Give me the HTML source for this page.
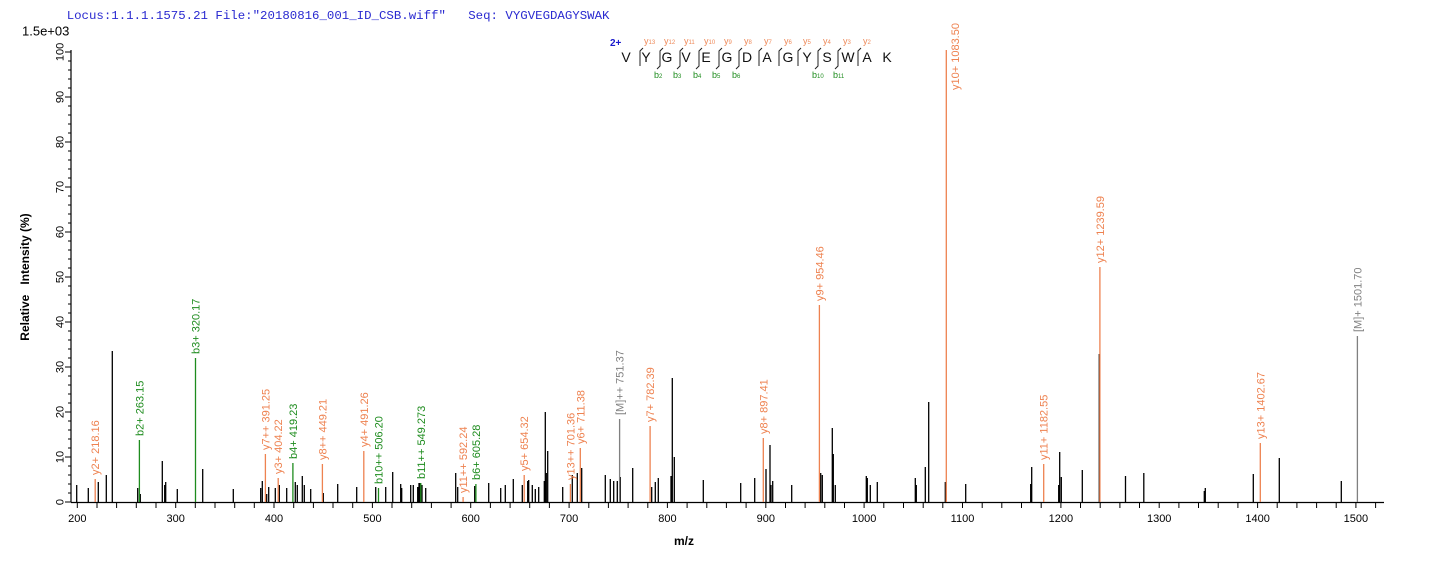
<!DOCTYPE html>
<html>
<head>
<meta charset="utf-8">
<style>
  html,body{margin:0;padding:0;background:#fff;}
  svg{display:block;}
  text{font-family:"Liberation Sans",Arial,sans-serif;}
  .mono{font-family:"Liberation Mono","Courier New",monospace;}
</style>
</head>
<body>
<svg width="1436" height="562" viewBox="0 0 1436 562" xmlns="http://www.w3.org/2000/svg">
  <rect width="1436" height="562" fill="#fff"/>

  <!-- header -->
  <text class="mono" x="66.7" y="19" font-size="12.4" fill="#2a2ad0" xml:space="preserve">Locus:1.1.1.1575.21 File:"20180816_001_ID_CSB.wiff"   Seq: VYGVEGDAGYSWAK</text>
  <text x="22" y="35.5" font-size="13" fill="#000">1.5e+03</text>

  <!-- sequence diagram -->
  <g font-size="14" fill="#111" text-anchor="middle">
    <text x="626" y="62">V</text><text x="646" y="62">Y</text><text x="667" y="62">G</text>
    <text x="686" y="62">V</text><text x="706" y="62">E</text><text x="727" y="62">G</text>
    <text x="747" y="62">D</text><text x="767" y="62">A</text><text x="788" y="62">G</text>
    <text x="807" y="62">Y</text><text x="827" y="62">S</text><text x="848" y="62">W</text>
    <text x="867" y="62">A</text><text x="887" y="62">K</text>
  </g>
  <text x="610" y="46" font-size="10" font-weight="bold" fill="#1a1acc">2+</text>
  <g stroke="#222" stroke-width="1" fill="none">
    <polyline points="640,66 640,51 643,48"/>
    <polyline points="657,69 660,66 660,51 663,48"/>
    <polyline points="677,69 680,66 680,51 683,48"/>
    <polyline points="696,69 699,66 699,51 702,48"/>
    <polyline points="716,69 719,66 719,51 722,48"/>
    <polyline points="736,69 739,66 739,51 742,48"/>
    <polyline points="759,66 759,51 762,48"/>
    <polyline points="779,66 779,51 782,48"/>
    <polyline points="798,66 798,51 801,48"/>
    <polyline points="815,69 818,66 818,51 821,48"/>
    <polyline points="835,69 838,66 838,51 841,48"/>
    <polyline points="858,66 858,51 861,48"/>
  </g>
  <g fill="#ee8a5a" font-size="9">
    <text x="644" y="44">y<tspan font-size="6">13</tspan></text>
    <text x="664" y="44">y<tspan font-size="6">12</tspan></text>
    <text x="684" y="44">y<tspan font-size="6">11</tspan></text>
    <text x="704" y="44">y<tspan font-size="6">10</tspan></text>
    <text x="724" y="44">y<tspan font-size="6">9</tspan></text>
    <text x="744" y="44">y<tspan font-size="6">8</tspan></text>
    <text x="764" y="44">y<tspan font-size="6">7</tspan></text>
    <text x="784" y="44">y<tspan font-size="6">6</tspan></text>
    <text x="803" y="44">y<tspan font-size="6">5</tspan></text>
    <text x="823" y="44">y<tspan font-size="6">4</tspan></text>
    <text x="843" y="44">y<tspan font-size="6">3</tspan></text>
    <text x="863" y="44">y<tspan font-size="6">2</tspan></text>
  </g>
  <g fill="#1e8c1e" font-size="9">
    <text x="654" y="78">b<tspan font-size="6">2</tspan></text>
    <text x="673" y="78">b<tspan font-size="6">3</tspan></text>
    <text x="693" y="78">b<tspan font-size="6">4</tspan></text>
    <text x="712" y="78">b<tspan font-size="6">5</tspan></text>
    <text x="732" y="78">b<tspan font-size="6">6</tspan></text>
    <text x="812" y="78">b<tspan font-size="6">10</tspan></text>
    <text x="833" y="78">b<tspan font-size="6">11</tspan></text>
  </g>

  <!-- axes -->
  <g stroke="#000" stroke-width="1.2" fill="none">
    <line x1="71" y1="50" x2="71" y2="502.5"/>
    <line x1="71" y1="502.5" x2="1384" y2="502.5"/>
  </g>
  <!-- y ticks -->
  <g stroke="#000" stroke-width="1">
    <line x1="65" y1="502" x2="71" y2="502"/><line x1="68" y1="493" x2="71" y2="493"/><line x1="68" y1="484" x2="71" y2="484"/><line x1="68" y1="475" x2="71" y2="475"/><line x1="68" y1="466" x2="71" y2="466"/>
    <line x1="65" y1="457" x2="71" y2="457"/><line x1="68" y1="448" x2="71" y2="448"/><line x1="68" y1="439" x2="71" y2="439"/><line x1="68" y1="430" x2="71" y2="430"/><line x1="68" y1="421" x2="71" y2="421"/>
    <line x1="65" y1="412" x2="71" y2="412"/><line x1="68" y1="403" x2="71" y2="403"/><line x1="68" y1="394" x2="71" y2="394"/><line x1="68" y1="385" x2="71" y2="385"/><line x1="68" y1="376" x2="71" y2="376"/>
    <line x1="65" y1="367" x2="71" y2="367"/><line x1="68" y1="358" x2="71" y2="358"/><line x1="68" y1="349" x2="71" y2="349"/><line x1="68" y1="340" x2="71" y2="340"/><line x1="68" y1="331" x2="71" y2="331"/>
    <line x1="65" y1="322" x2="71" y2="322"/><line x1="68" y1="313" x2="71" y2="313"/><line x1="68" y1="304" x2="71" y2="304"/><line x1="68" y1="295" x2="71" y2="295"/><line x1="68" y1="286" x2="71" y2="286"/>
    <line x1="65" y1="277" x2="71" y2="277"/><line x1="68" y1="268" x2="71" y2="268"/><line x1="68" y1="259" x2="71" y2="259"/><line x1="68" y1="250" x2="71" y2="250"/><line x1="68" y1="241" x2="71" y2="241"/>
    <line x1="65" y1="232" x2="71" y2="232"/><line x1="68" y1="223" x2="71" y2="223"/><line x1="68" y1="214" x2="71" y2="214"/><line x1="68" y1="205" x2="71" y2="205"/><line x1="68" y1="196" x2="71" y2="196"/>
    <line x1="65" y1="187" x2="71" y2="187"/><line x1="68" y1="178" x2="71" y2="178"/><line x1="68" y1="169" x2="71" y2="169"/><line x1="68" y1="160" x2="71" y2="160"/><line x1="68" y1="151" x2="71" y2="151"/>
    <line x1="65" y1="142" x2="71" y2="142"/><line x1="68" y1="133" x2="71" y2="133"/><line x1="68" y1="124" x2="71" y2="124"/><line x1="68" y1="115" x2="71" y2="115"/><line x1="68" y1="106" x2="71" y2="106"/>
    <line x1="65" y1="97" x2="71" y2="97"/><line x1="68" y1="88" x2="71" y2="88"/><line x1="68" y1="79" x2="71" y2="79"/><line x1="68" y1="70" x2="71" y2="70"/><line x1="68" y1="61" x2="71" y2="61"/>
    <line x1="65" y1="52" x2="71" y2="52"/>
  </g>
  <g font-size="11" fill="#000" text-anchor="middle">
    <text transform="translate(63.5,502) rotate(-90)">0</text>
    <text transform="translate(63.5,457) rotate(-90)">10</text>
    <text transform="translate(63.5,412) rotate(-90)">20</text>
    <text transform="translate(63.5,367) rotate(-90)">30</text>
    <text transform="translate(63.5,322) rotate(-90)">40</text>
    <text transform="translate(63.5,277) rotate(-90)">50</text>
    <text transform="translate(63.5,232) rotate(-90)">60</text>
    <text transform="translate(63.5,187) rotate(-90)">70</text>
    <text transform="translate(63.5,142) rotate(-90)">80</text>
    <text transform="translate(63.5,97) rotate(-90)">90</text>
    <text transform="translate(63.5,52) rotate(-90)">100</text>
  </g>
  <text transform="translate(29,277) rotate(-90)" font-size="12" font-weight="bold" text-anchor="middle" xml:space="preserve">Relative   Intensity (%)</text>

  <!-- x ticks -->
  <g stroke="#000" stroke-width="1">
    <line x1="77.3" y1="502" x2="77.3" y2="508"/><line x1="97.0" y1="502" x2="97.0" y2="508"/><line x1="116.6" y1="502" x2="116.6" y2="508"/><line x1="136.3" y1="502" x2="136.3" y2="508"/><line x1="156.0" y1="502" x2="156.0" y2="508"/>
    <line x1="175.7" y1="502" x2="175.7" y2="508"/><line x1="195.3" y1="502" x2="195.3" y2="508"/><line x1="215.0" y1="502" x2="215.0" y2="508"/><line x1="234.7" y1="502" x2="234.7" y2="508"/><line x1="254.3" y1="502" x2="254.3" y2="508"/>
    <line x1="274.0" y1="502" x2="274.0" y2="508"/><line x1="293.7" y1="502" x2="293.7" y2="508"/><line x1="313.4" y1="502" x2="313.4" y2="508"/><line x1="333.0" y1="502" x2="333.0" y2="508"/><line x1="352.7" y1="502" x2="352.7" y2="508"/>
    <line x1="372.4" y1="502" x2="372.4" y2="508"/><line x1="392.0" y1="502" x2="392.0" y2="508"/><line x1="411.7" y1="502" x2="411.7" y2="508"/><line x1="431.4" y1="502" x2="431.4" y2="508"/><line x1="451.1" y1="502" x2="451.1" y2="508"/>
    <line x1="470.7" y1="502" x2="470.7" y2="508"/><line x1="490.4" y1="502" x2="490.4" y2="508"/><line x1="510.1" y1="502" x2="510.1" y2="508"/><line x1="529.7" y1="502" x2="529.7" y2="508"/><line x1="549.4" y1="502" x2="549.4" y2="508"/>
    <line x1="569.1" y1="502" x2="569.1" y2="508"/><line x1="588.8" y1="502" x2="588.8" y2="508"/><line x1="608.4" y1="502" x2="608.4" y2="508"/><line x1="628.1" y1="502" x2="628.1" y2="508"/><line x1="647.8" y1="502" x2="647.8" y2="508"/>
    <line x1="667.4" y1="502" x2="667.4" y2="508"/><line x1="687.1" y1="502" x2="687.1" y2="508"/><line x1="706.8" y1="502" x2="706.8" y2="508"/><line x1="726.4" y1="502" x2="726.4" y2="508"/><line x1="746.1" y1="502" x2="746.1" y2="508"/>
    <line x1="765.8" y1="502" x2="765.8" y2="508"/><line x1="785.5" y1="502" x2="785.5" y2="508"/><line x1="805.1" y1="502" x2="805.1" y2="508"/><line x1="824.8" y1="502" x2="824.8" y2="508"/><line x1="844.5" y1="502" x2="844.5" y2="508"/>
    <line x1="864.1" y1="502" x2="864.1" y2="508"/><line x1="883.8" y1="502" x2="883.8" y2="508"/><line x1="903.5" y1="502" x2="903.5" y2="508"/><line x1="923.2" y1="502" x2="923.2" y2="508"/><line x1="942.8" y1="502" x2="942.8" y2="508"/>
    <line x1="962.5" y1="502" x2="962.5" y2="508"/><line x1="982.2" y1="502" x2="982.2" y2="508"/><line x1="1001.8" y1="502" x2="1001.8" y2="508"/><line x1="1021.5" y1="502" x2="1021.5" y2="508"/><line x1="1041.2" y1="502" x2="1041.2" y2="508"/>
    <line x1="1060.9" y1="502" x2="1060.9" y2="508"/><line x1="1080.5" y1="502" x2="1080.5" y2="508"/><line x1="1100.2" y1="502" x2="1100.2" y2="508"/><line x1="1119.9" y1="502" x2="1119.9" y2="508"/><line x1="1139.5" y1="502" x2="1139.5" y2="508"/>
    <line x1="1159.2" y1="502" x2="1159.2" y2="508"/><line x1="1178.9" y1="502" x2="1178.9" y2="508"/><line x1="1198.5" y1="502" x2="1198.5" y2="508"/><line x1="1218.2" y1="502" x2="1218.2" y2="508"/><line x1="1237.9" y1="502" x2="1237.9" y2="508"/>
    <line x1="1257.6" y1="502" x2="1257.6" y2="508"/><line x1="1277.2" y1="502" x2="1277.2" y2="508"/><line x1="1296.9" y1="502" x2="1296.9" y2="508"/><line x1="1316.6" y1="502" x2="1316.6" y2="508"/><line x1="1336.2" y1="502" x2="1336.2" y2="508"/>
    <line x1="1355.9" y1="502" x2="1355.9" y2="508"/><line x1="1375.6" y1="502" x2="1375.6" y2="508"/>
  </g>
  <g font-size="11" fill="#000" text-anchor="middle">
    <text x="77.3" y="522">200</text><text x="175.7" y="522">300</text><text x="274.0" y="522">400</text>
    <text x="372.4" y="522">500</text><text x="470.7" y="522">600</text><text x="569.1" y="522">700</text>
    <text x="667.4" y="522">800</text><text x="765.8" y="522">900</text><text x="864.1" y="522">1000</text>
    <text x="962.5" y="522">1100</text><text x="1060.9" y="522">1200</text><text x="1159.2" y="522">1300</text>
    <text x="1257.6" y="522">1400</text><text x="1355.9" y="522">1500</text>
  </g>
  <text x="684" y="545" font-size="12" font-weight="bold" text-anchor="middle">m/z</text>

  <!-- black peaks -->
  <path stroke="#000" stroke-width="1.3" fill="none" d="
M76.7 502V485 M88.3 502V488 M98.3 502V482 M106.3 502V475 M112.3 502V351 M137.7 502V488 M140.3 502V494
M162.3 502V461 M164.7 502V485 M165.7 502V482 M177.3 502V489 M202.7 502V469 M233.3 502V489 M260.7 502V488
M262.3 502V481 M266.7 502V494 M268.7 502V487 M275.3 502V488 M279.3 502V485 M286.7 502V488 M295.3 502V482
M297.3 502V485 M302.3 502V476 M304.3 502V485 M310.7 502V489 M323.3 502V493 M337.7 502V484 M356.7 502V487
M375.7 502V487 M385.7 502V487 M392.7 502V472 M400.7 502V484 M401.7 502V488 M410.7 502V485 M413.3 502V485
M417.7 502V487 M419 502V483 M420 502V483 M422 502V485 M425.7 502V488 M455.7 502V473 M457.7 502V487
M474.7 502V486 M488.7 502V483
M500.7 502V488 M505.3 502V485 M513.3 502V479 M522.3 502V485 M527.7 502V481 M528.7 502V480 M532.3 502V485
M535.3 502V489 M538.7 502V487 M544.3 502V481 M545.3 502V412 M546.3 502V473 M547.7 502V451 M562.7 502V487
M572.3 502V475 M577.3 502V473 M581.7 502V468 M605.3 502V475 M610.3 502V479 M613.7 502V481 M617.3 502V481
M620.3 502V477 M632.7 502V468 M651.7 502V487 M655.3 502V482 M658.3 502V478 M671 502V476 M672.3 502V378
M674.3 502V457 M703.3 502V480 M740.7 502V483 M754.7 502V478 M766 502V469 M770 502V445 M771 502V485
M772.7 502V481 M791.7 502V485 M820.7 502V473 M822.3 502V475 M832.3 502V428 M833.3 502V454 M835.3 502V485
M866.3 502V476 M867.3 502V478 M870.3 502V485 M877.3 502V482
M915.3 502V478 M916.3 502V485 M925.3 502V467 M928.7 502V402 M945.3 502V482 M965.7 502V484 M1030.7 502V484
M1031.7 502V467 M1058.7 502V485 M1059.7 502V452 M1061.3 502V477 M1082.3 502V470 M1099.3 502V354
M1125.5 502V476 M1143.8 502V473 M1204.3 502V491 M1205.3 502V488 M1253.3 502V474 M1279.3 502V458 M1341.3 502V481"/>

  <!-- orange y-ion peaks -->
  <path stroke="#ee8250" stroke-width="1.3" fill="none" d="
M95.2 502V479 M265.4 502V454 M278.2 502V478 M322.4 502V464 M363.8 502V451 M463.1 502V497 M524.2 502V475
M570.4 502V484 M580.3 502V448 M650.1 502V426 M763.3 502V438 M819.4 502V305 M946.3 502V50 M1043.7 502V464
M1099.9 502V267 M1260.3 502V443"/>
  <!-- green b-ion peaks -->
  <path stroke="#1e8c1e" stroke-width="1.3" fill="none" d="
M139.4 502V440 M195.5 502V358 M292.9 502V463 M378.5 502V488 M420.8 502V483 M475.9 502V484"/>
  <!-- grey precursor -->
  <path stroke="#808080" stroke-width="1.3" fill="none" d="M619.6 502V419 M1357.4 502V336"/>

  <!-- labels -->
  <g font-size="11" fill="#ee8250">
    <text transform="translate(99.2,475) rotate(-90)">y2+ 218.16</text>
    <text transform="translate(269.4,450) rotate(-90)">y7++ 391.25</text>
    <text transform="translate(282.2,474) rotate(-90)">y3+ 404.22</text>
    <text transform="translate(326.4,460) rotate(-90)">y8++ 449.21</text>
    <text transform="translate(367.8,447) rotate(-90)">y4+ 491.26</text>
    <text transform="translate(467.1,493) rotate(-90)">y11++ 592.24</text>
    <text transform="translate(528.2,471) rotate(-90)">y5+ 654.32</text>
    <text transform="translate(574.4,480) rotate(-90)">y13++ 701.36</text>
    <text transform="translate(584.3,444) rotate(-90)">y6+ 711.38</text>
    <text transform="translate(654.1,422) rotate(-90)">y7+ 782.39</text>
    <text transform="translate(767.3,434) rotate(-90)">y8+ 897.41</text>
    <text transform="translate(823.4,301) rotate(-90)">y9+ 954.46</text>
    <text transform="translate(959,90) rotate(-90)">y10+ 1083.50</text>
    <text transform="translate(1047.7,460) rotate(-90)">y11+ 1182.55</text>
    <text transform="translate(1103.9,263) rotate(-90)">y12+ 1239.59</text>
    <text transform="translate(1264.3,439) rotate(-90)">y13+ 1402.67</text>
  </g>
  <g font-size="11" fill="#1e8c1e">
    <text transform="translate(143.4,436) rotate(-90)">b2+ 263.15</text>
    <text transform="translate(199.5,354) rotate(-90)">b3+ 320.17</text>
    <text transform="translate(296.9,459) rotate(-90)">b4+ 419.23</text>
    <text transform="translate(382.5,484) rotate(-90)">b10++ 506.20</text>
    <text transform="translate(424.8,479) rotate(-90)">b11++ 549.273</text>
    <text transform="translate(479.9,480) rotate(-90)">b6+ 605.28</text>
  </g>
  <g font-size="11" fill="#808080">
    <text transform="translate(623.6,415) rotate(-90)">[M]++ 751.37</text>
    <text transform="translate(1361.4,332) rotate(-90)">[M]+ 1501.70</text>
  </g>
</svg>
</body>
</html>
